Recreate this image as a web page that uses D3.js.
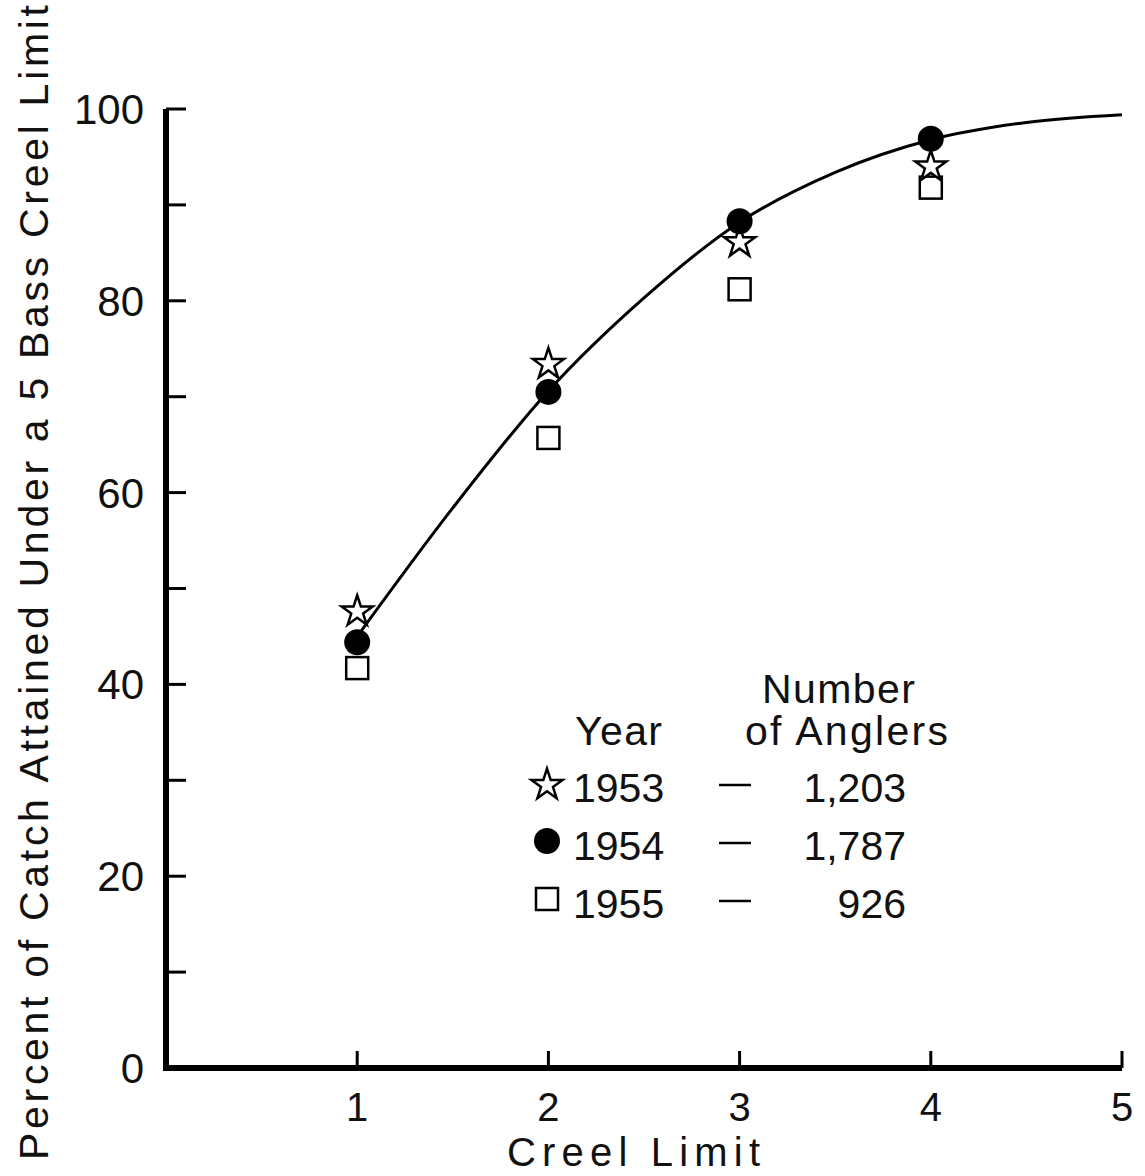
<!DOCTYPE html>
<html>
<head>
<meta charset="utf-8">
<script src="https://cdn.jsdelivr.net/npm/d3@7"></script>
<style>
  body { margin: 0; background: #fff; }
  text { font-family: "Liberation Sans", Arial, sans-serif; fill: #111; }
</style>
</head>
<body>
<div id="chart"></div>
<script>
// creel limit values
var limits = [1, 2, 3, 4]
var years = ["1953", "1954", "1955"]
var anglers = ["1,203", "1,787", "926"]
var symbols = ["star", "circle", "square"]
// percent of catch attained, per year
var pct1953 = [47.8, 73.6, 86.3, 94.2]
var pct1954 = [44.4, 70.5, 88.3, 96.9]
var pct1955 = [41.7, 65.7, 81.2, 91.8]
// fitted curve
var curveX = [1, 1.5, 2, 2.5, 3, 3.5, 4, 4.5, 5]
var curveY = [45, 58.4, 70.6, 80.3, 88.2, 93.4, 96.8, 98.6, 99.4]
var xTicks = [1, 2, 3, 4, 5]
var yTicks = [0, 10, 20, 30, 40, 50, 60, 70, 80, 90, 100]
var yLabels = [0, 20, 40, 60, 80, 100]

var svg = d3.select("#chart")
    .append("svg")
    .attr("width", 1145)
    .attr("height", 1176)

var x = d3.scaleLinear().domain([0, 5]).range([166, 1122])
var y = d3.scaleLinear().domain([0, 100]).range([1068, 109])

// axes
svg.append("path")
    .attr("d", "M" + x(0) + "," + y(100) + "V" + y(0) + "H" + x(5))
    .style("fill", "none")
    .style("stroke", "black")
    .style("stroke-width", 6)
    .style("stroke-linejoin", "miter")

svg.selectAll(".ytick")
    .data(yTicks)
    .enter().append("line")
    .attr("x1", x(0))
    .attr("x2", x(0) + 20)
    .attr("y1", d => y(d))
    .attr("y2", d => y(d))
    .style("stroke", "black")
    .style("stroke-width", 3)

svg.selectAll(".xtick")
    .data(xTicks)
    .enter().append("line")
    .attr("x1", d => x(d))
    .attr("x2", d => x(d))
    .attr("y1", y(0))
    .attr("y2", y(0) - 17)
    .style("stroke", "black")
    .style("stroke-width", 3)

svg.selectAll(".ylab")
    .data(yLabels)
    .enter().append("text")
    .attr("x", 144)
    .attr("y", d => y(d) + 15)
    .attr("text-anchor", "end")
    .style("font-size", "42px")
    .text(d => d)

svg.selectAll(".xlab")
    .data(xTicks)
    .enter().append("text")
    .attr("x", d => x(d))
    .attr("y", 1121)
    .attr("text-anchor", "middle")
    .style("font-size", "40px")
    .text(d => d)

// axis titles
svg.append("text")
    .attr("x", 507)
    .attr("y", 1166)
    .attr("textLength", 253)
    .attr("lengthAdjust", "spacing")
    .style("font-size", "40px")
    .text("Creel  Limit")

svg.append("text")
    .attr("transform", "translate(48,1160) rotate(-90)")
    .attr("x", 0)
    .attr("y", 0)
    .attr("textLength", 1155)
    .attr("lengthAdjust", "spacing")
    .style("font-size", "41px")
    .text("Percent of Catch Attained Under a 5 Bass Creel Limit")

// fitted curve
var line = d3.line()
    .x(d => x(d[0]))
    .y(d => y(d[1]))
    .curve(d3.curveMonotoneX)

svg.append("path")
    .datum(curveX.map((d, i) => [d, curveY[i]]))
    .attr("d", line)
    .style("fill", "none")
    .style("stroke", "black")
    .style("stroke-width", 3)

function drawSymbol(g, kind, cx, cy) {
    if (kind == "star") {
        g.append("path")
            .attr("d", d3.symbol().type(d3.symbolStar).size(300)())
            .attr("transform", "translate(" + cx + "," + (cy + 2) + ")")
            .style("fill", "white")
            .style("stroke", "black")
            .style("stroke-width", 2.5)
    } else if (kind == "circle") {
        g.append("circle")
            .attr("cx", cx)
            .attr("cy", cy)
            .attr("r", 13)
            .style("fill", "black")
    } else {
        g.append("rect")
            .attr("x", cx - 11)
            .attr("y", cy - 11)
            .attr("width", 22)
            .attr("height", 22)
            .style("fill", "white")
            .style("stroke", "black")
            .style("stroke-width", 2.5)
    }
}

var series = [pct1953, pct1954, pct1955]
// squares first, then stars, then circles on top
var order = [2, 0, 1]
order.forEach(s => {
    series[s].forEach((v, i) => {
        drawSymbol(svg, symbols[s], x(limits[i]), y(v))
    })
})

// legend
svg.append("text")
    .attr("x", 762).attr("y", 703)
    .attr("textLength", 153)
    .attr("lengthAdjust", "spacing")
    .style("font-size", "41px")
    .text("Number")
svg.append("text")
    .attr("x", 575).attr("y", 745)
    .attr("textLength", 87)
    .attr("lengthAdjust", "spacing")
    .style("font-size", "41px")
    .text("Year")
svg.append("text")
    .attr("x", 745).attr("y", 745)
    .attr("textLength", 203)
    .attr("lengthAdjust", "spacing")
    .style("font-size", "41px")
    .text("of Anglers")

years.forEach((yr, i) => {
    var ry = 787 + i * 58
    drawSymbol(svg, symbols[i], 547, ry - 4)
    svg.append("text")
        .attr("x", 573).attr("y", ry + 15)
        .style("font-size", "41px")
        .text(yr)
    svg.append("line")
        .attr("x1", 719).attr("x2", 751)
        .attr("y1", ry - 2).attr("y2", ry - 2)
        .style("stroke", "black")
        .style("stroke-width", 2.5)
    svg.append("text")
        .attr("x", 906).attr("y", ry + 15)
        .attr("text-anchor", "end")
        .style("font-size", "41px")
        .text(anglers[i])
})
</script>
</body>
</html>
